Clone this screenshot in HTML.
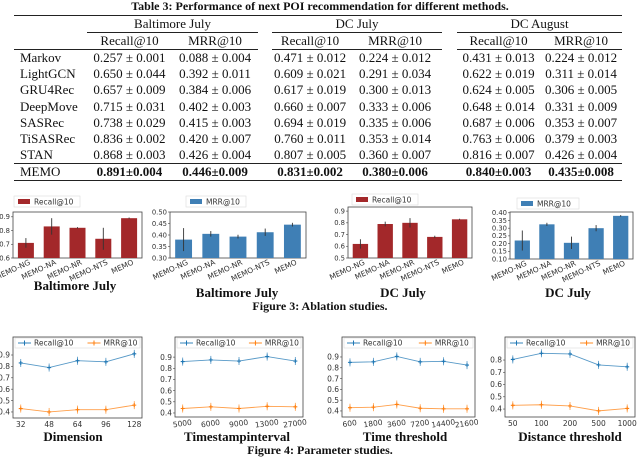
<!DOCTYPE html>
<html><head><meta charset="utf-8">
<style>
body{margin:0;width:640px;height:459px;background:#fff;position:relative;overflow:hidden;font-family:"Liberation Serif",serif;color:#111}
.t{position:absolute;white-space:nowrap;font-weight:bold;transform:translateX(-50%)}
table{position:absolute;left:14px;top:15px;width:608px;border-collapse:collapse;table-layout:fixed;font-size:13px;border-top:1px solid #222;border-bottom:1px solid #222}
td{padding:0;height:16px;line-height:16px;text-align:center;white-space:nowrap;overflow:visible}
td.m{text-align:left;padding-left:6px}
.ul{border-bottom:1px solid #222}
tr.h2 td{border-bottom:1px solid #222}
tr.memo td{border-top:1px solid #222;font-weight:bold}
tr.d td{height:16.2px;line-height:16.2px}
svg{position:absolute;left:0;top:0}
</style></head><body>
<div class="t" style="left:320px;top:-1px;font-size:12px">Table 3: Performance of next POI recommendation for different methods.</div>
<table>
<colgroup><col style="width:73px"><col style="width:85px"><col style="width:86px"><col style="width:14px"><col style="width:76px"><col style="width:94px"><col style="width:15px"><col style="width:83px"><col style="width:82px"></colgroup>
<tr><td></td><td colspan="2" class="ul">Baltimore July</td><td></td><td colspan="2" class="ul">DC July</td><td></td><td colspan="2" class="ul">DC August</td></tr>
<tr class="h2"><td></td><td>Recall@10</td><td>MRR@10</td><td style="border-bottom:none"></td><td>Recall@10</td><td>MRR@10</td><td style="border-bottom:none"></td><td>Recall@10</td><td>MRR@10</td></tr>
<tr class="d"><td class="m">Markov</td><td>0.257 ± 0.001</td><td>0.088 ± 0.004</td><td></td><td>0.471 ± 0.012</td><td>0.224 ± 0.012</td><td></td><td>0.431 ± 0.013</td><td>0.224 ± 0.012</td></tr>
<tr class="d"><td class="m">LightGCN</td><td>0.650 ± 0.044</td><td>0.392 ± 0.011</td><td></td><td>0.609 ± 0.021</td><td>0.291 ± 0.034</td><td></td><td>0.622 ± 0.019</td><td>0.311 ± 0.014</td></tr>
<tr class="d"><td class="m">GRU4Rec</td><td>0.657 ± 0.009</td><td>0.384 ± 0.006</td><td></td><td>0.617 ± 0.019</td><td>0.300 ± 0.013</td><td></td><td>0.624 ± 0.005</td><td>0.306 ± 0.005</td></tr>
<tr class="d"><td class="m">DeepMove</td><td>0.715 ± 0.031</td><td>0.402 ± 0.003</td><td></td><td>0.660 ± 0.007</td><td>0.333 ± 0.006</td><td></td><td>0.648 ± 0.014</td><td>0.331 ± 0.009</td></tr>
<tr class="d"><td class="m">SASRec</td><td>0.738 ± 0.029</td><td>0.415 ± 0.003</td><td></td><td>0.694 ± 0.019</td><td>0.335 ± 0.006</td><td></td><td>0.687 ± 0.006</td><td>0.353 ± 0.007</td></tr>
<tr class="d"><td class="m">TiSASRec</td><td>0.836 ± 0.002</td><td>0.420 ± 0.007</td><td></td><td>0.760 ± 0.011</td><td>0.353 ± 0.014</td><td></td><td>0.763 ± 0.006</td><td>0.379 ± 0.003</td></tr>
<tr class="d"><td class="m">STAN</td><td>0.868 ± 0.003</td><td>0.426 ± 0.004</td><td></td><td>0.807 ± 0.005</td><td>0.360 ± 0.007</td><td></td><td>0.816 ± 0.007</td><td>0.426 ± 0.004</td></tr>
<tr class="memo"><td class="m" style="font-weight:normal">MEMO</td><td>0.891±0.004</td><td>0.446±0.009</td><td></td><td>0.831±0.002</td><td>0.380±0.006</td><td></td><td>0.840±0.003</td><td>0.435±0.008</td></tr>
</table>

<div class="t" style="left:75px;top:278px;font-size:13px">Baltimore July</div>
<div class="t" style="left:237px;top:285px;font-size:13px">Baltimore July</div>
<div class="t" style="left:403px;top:285px;font-size:13px">DC July</div>
<div class="t" style="left:568px;top:285px;font-size:13px">DC July</div>
<div class="t" style="left:320px;top:299px;font-size:12px">Figure 3: Ablation studies.</div>
<div class="t" style="left:73px;top:429px;font-size:13px">Dimension</div>
<div class="t" style="left:237px;top:429px;font-size:13px">Timestampinterval</div>
<div class="t" style="left:405px;top:429px;font-size:13px">Time threshold</div>
<div class="t" style="left:570px;top:429px;font-size:13px">Distance threshold</div>
<div class="t" style="left:320px;top:443px;font-size:12px">Figure 4: Parameter studies.</div>

<svg id="s" width="640" height="459"></svg>
<script>
// Ablation data
const ablationCats = ["MEMO-NG","MEMO-NA","MEMO-NR","MEMO-NTS","MEMO"];
const balRecall = [0.71,0.83,0.82,0.74,0.89];
const balRecallErr = [0.035,0.06,0.005,0.08,0.005];
const balMrr = [0.38,0.405,0.393,0.412,0.445];
const balMrrErr = [0.05,0.012,0.008,0.016,0.008];
const dcRecall = [0.62,0.79,0.80,0.68,0.83];
const dcRecallErr = [0.04,0.02,0.04,0.01,0.005];
const dcMrr = [0.22,0.325,0.205,0.30,0.38];
const dcMrrErr = [0.065,0.01,0.04,0.02,0.005];
const ticksRecallBal = ["0.6","0.7","0.8","0.9"];
const ticksMrrBal = ["0.30","0.35","0.40","0.45","0.50"];
const ticksRecallDc = ["0.5","0.6","0.7","0.8","0.9"];
const ticksMrrDc = ["0.10","0.15","0.20","0.25","0.30","0.35","0.40"];
// Parameter data
const dimCats = ["32","48","64","96","128"];
const dimRecall = [0.83,0.79,0.85,0.84,0.91];
const dimMrr = [0.43,0.40,0.42,0.42,0.46];
const tsCats = ["5000","6000","9000","13000","27000"];
const tsRecall = [0.86,0.875,0.865,0.905,0.865];
const tsMrr = [0.44,0.455,0.44,0.46,0.455];
const ttCats = ["600","1800","3600","7200","14400","21600"];
const ttRecall = [0.85,0.855,0.905,0.855,0.86,0.825];
const ttMrr = [0.43,0.435,0.46,0.425,0.42,0.42];
const dtCats = ["50","100","200","500","1000"];
const dtRecall = [0.805,0.855,0.85,0.76,0.745];
const dtMrr = [0.43,0.435,0.425,0.385,0.405];
const lineTicks1 = ["0.4","0.5","0.6","0.7","0.8","0.9"];
const lineTicks2 = ["0.4","0.5","0.6","0.7","0.8"];

const S=document.getElementById('s');
const NS='http://www.w3.org/2000/svg';
function mk(tag,at,txt){const e=document.createElementNS(NS,tag);for(const k in at)e.setAttribute(k,at[k]);if(txt!=null)e.textContent=txt;S.appendChild(e);return e;}

function barChart(name,box,ymin,ymax,ticks,vals,errs,color,legend,leg){
  const [x0,y0,x1,y1]=box;
  const ys=v=>y1-(v-ymin)/(ymax-ymin)*(y1-y0);
  const slot=(x1-x0)/vals.length;
  const f=mk('rect',{x:x0,y:y0,width:x1-x0,height:y1-y0,fill:'none',stroke:'#444','stroke-width':0.8});
  
  
  ticks.forEach(t=>{const v=parseFloat(t);const y=ys(v);
    mk('line',{x1:x0-2,x2:x0,y1:y,y2:y,stroke:'#444','stroke-width':0.6});
    const tl=mk('text',{x:x0-3,y:y+2.3,'font-size':6.8,'text-anchor':'end','font-family':'DejaVu Sans, sans-serif',fill:'#333'},t);
    
    
  });
  vals.forEach((v,i)=>{const cx=x0+slot*(i+0.5);const w=slot*0.62;
    const b=mk('rect',{x:cx-w/2,y:ys(v),width:w,height:y1-ys(v),fill:color});
    
    
    mk('line',{x1:cx,x2:cx,y1:ys(Math.min(ymax,v+errs[i])),y2:ys(v-errs[i]),stroke:'#333','stroke-width':0.9});
    const xl=mk('text',{x:cx+5,y:y1+6,'font-size':7.5,'text-anchor':'end','font-family':'DejaVu Sans, sans-serif',fill:'#333',transform:`rotate(-25 ${cx+5} ${y1+6})`},ablationCats[i]);
    
    
  });
  const [lx,ly,lw]=leg;
  const lg=mk('rect',{x:lx,y:ly,width:lw,height:11,fill:'#fff',stroke:'#ddd','stroke-width':0.6});
  
  
  mk('rect',{x:lx+4,y:ly+3,width:12,height:5,fill:color});
  mk('text',{x:lx+20,y:ly+8.3,'font-size':7.5,'font-family':'DejaVu Sans, sans-serif',fill:'#333'},legend);
}
const RED='#a3282a',BLUE='#3f7fb5';
barChart('bal-recall',[13,212,142,258],0.6,0.935,ticksRecallBal,balRecall,balRecallErr,RED,'Recall@10',[14,196,66]);
barChart('bal-mrr',[170,212,306,258],0.30,0.50,ticksMrrBal,balMrr,balMrrErr,BLUE,'MRR@10',[186,196,60]);
barChart('dc-recall',[348,207,472,258],0.5,0.935,ticksRecallDc,dcRecall,dcRecallErr,RED,'Recall@10',[352,194,66]);
barChart('dc-mrr',[510,212,633,259],0.10,0.405,ticksMrrDc,dcMrr,dcMrrErr,BLUE,'MRR@10',[517,198,62]);

function lineChart(name,box,ymin,ymax,ticks,cats,rec,mrr,rot){
  const [x0,y0,x1,y1]=box;
  const ys=v=>y1-(v-ymin)/(ymax-ymin)*(y1-y0);
  const pad=(x1-x0)*0.06;
  const xs=i=>x0+pad+i*(x1-x0-2*pad)/(cats.length-1);
  const f=mk('rect',{x:x0,y:y0,width:x1-x0,height:y1-y0,fill:'none',stroke:'#444','stroke-width':0.8});
  
  
  ticks.forEach(t=>{const y=ys(parseFloat(t));
    mk('line',{x1:x0-2,x2:x0,y1:y,y2:y,stroke:'#444','stroke-width':0.6});
    const tl=mk('text',{x:x0-3,y:y+2.7,'font-size':7.5,'text-anchor':'end','font-family':'DejaVu Sans, sans-serif',fill:'#333'},t);
    
    
  });
  cats.forEach((c,i)=>{const x=xs(i);
    const xl=mk('text',{x:x,y:y1+9,'font-size':7.5,'text-anchor':'middle','font-family':'DejaVu Sans, sans-serif',fill:'#333',transform:rot?`rotate(-8 ${x} ${y1+9})`:''},c);
    
    
  });
  [[rec,'#1f77b4','recall'],[mrr,'#ff7f0e','mrr']].forEach(([arr,col,k])=>{
    const pl=mk('polyline',{points:arr.map((v,i)=>xs(i)+','+ys(v)).join(' '),fill:'none',stroke:col,'stroke-width':0.9,'stroke-opacity':0.75});
    
    
    arr.forEach((v,i)=>{const x=xs(i),y=ys(v);
      mk('line',{x1:x,x2:x,y1:y-4,y2:y+4,stroke:col,'stroke-width':0.8,'stroke-opacity':0.8});
      const p=mk('path',{d:`M${x-2},${y}H${x+2}M${x},${y-2}V${y+2}`,stroke:col,'stroke-width':1.1});
      
      
    });
  });
  const lw=x1-x0-4;
  const lg=mk('rect',{x:x0+2,y:y0+1,width:lw,height:10,fill:'#fff',stroke:'#ddd','stroke-width':0.6});
  
  
  const lx=x0+5, mx=x0+2+lw*0.58;
  [[lx,'#1f77b4','Recall@10'],[mx,'#ff7f0e','MRR@10']].forEach(([x,col,t])=>{
    mk('line',{x1:x,x2:x+13,y1:y0+6,y2:y0+6,stroke:col,'stroke-width':0.9});
    mk('path',{d:`M${x+4.5},${y0+6}H${x+8.5}M${x+6.5},${y0+3.5}V${y0+8.5}`,stroke:col,'stroke-width':1});
    mk('text',{x:x+16,y:y0+8.5,'font-size':7.5,'font-family':'DejaVu Sans, sans-serif',fill:'#333'},t);
  });
}
lineChart('dimension',[13,337,142,418],0.347,1.058,lineTicks1,dimCats,dimRecall,dimMrr,false);
lineChart('timestamp',[175,337,303,417],0.364,1.08,lineTicks1,tsCats,tsRecall,tsMrr,true);
lineChart('time-threshold',[342,337,475,417],0.344,1.085,lineTicks1,ttCats,ttRecall,ttMrr,true);
lineChart('distance-threshold',[505,337,635,417],0.335,0.988,lineTicks2,dtCats,dtRecall,dtMrr,false);
</script>
</body></html>
